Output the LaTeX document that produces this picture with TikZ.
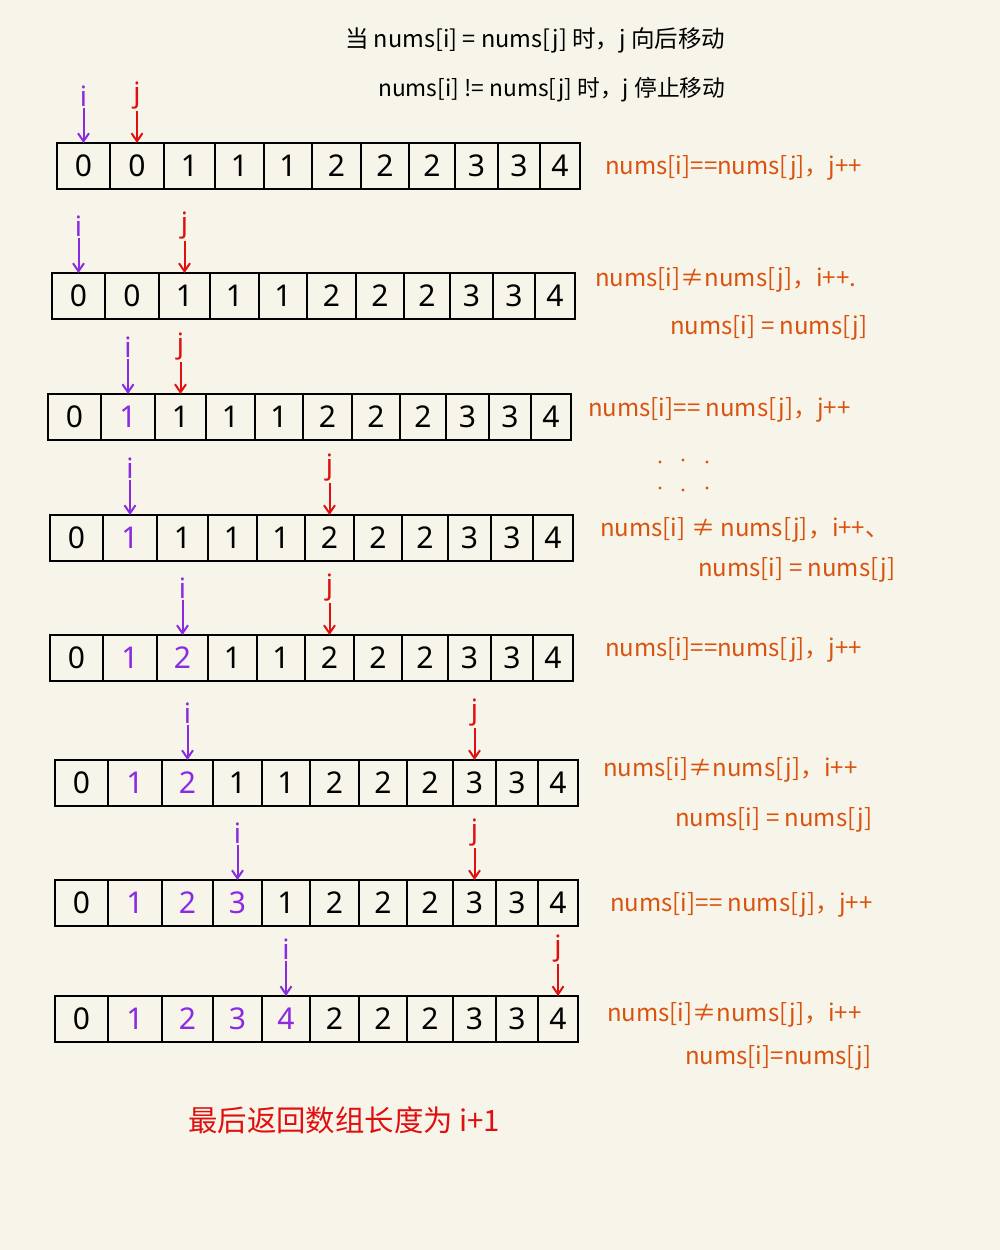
\documentclass[tikz,border=0pt]{standalone}
\usepackage{fontspec}
\usepackage{graphicx}
\setmainfont{Noto Sans}
\newfontfamily\cjk{Noto Sans CJK SC}
\usetikzlibrary{arrows.meta}
\definecolor{bg}{HTML}{F7F5E9}
\definecolor{pur}{HTML}{8A2BE2}
\definecolor{ptr}{HTML}{E01010}
\definecolor{org}{HTML}{D9530F}
\begin{document}
\begin{tikzpicture}[x=1pt,y=-1pt,
  cell/.style={draw=black, line width=2.2pt, anchor=north west, minimum height=46pt,
    inner sep=0pt, outer sep=0pt, font=\fontsize{30}{30}\selectfont},
  ilab/.style={text=pur, inner sep=1pt, font=\fontsize{28}{28}\selectfont},
  jlab/.style={text=ptr, inner sep=1pt, font=\fontsize{28}{28}\selectfont},
  iarrow/.style={draw=pur, line width=2pt, -{Straight Barb[length=8pt,width=11pt]}},
  jarrow/.style={draw=ptr, line width=2pt, -{Straight Barb[length=8pt,width=11pt]}},
  lab/.style={anchor=west, text=org, inner sep=0pt, font=\fontsize{24}{24}\selectfont\cjk},
  head/.style={anchor=west, text=black, inner sep=0pt},
  foot/.style={anchor=west, text=ptr, inner sep=0pt},
  dot/.style={fill=org, draw=none}]
\fill[bg] (0,0) rectangle (1000,1250);
\useasboundingbox (0,0) rectangle (1000,1250);

% header
\node[head] (h1) at (345,40) {\resizebox{380pt}{!}{\cjk 当 nums[i] = nums[j] 时，j 向后移动}};
\node[head] (h2) at (378,90) {\resizebox{347pt}{!}{\cjk nums[i] != nums[j] 时，j 停止移动}};

% arrays
\foreach \r/\x/\y/\vals/\np/\ci/\cj in {
  1/57/143/{0,0,1,1,1,2,2,2,3,3,4}/0/1/2,
  2/52/273/{0,0,1,1,1,2,2,2,3,3,4}/0/1/3,
  3/48/394/{0,1,1,1,1,2,2,2,3,3,4}/1/2/3,
  4/50/515/{0,1,1,1,1,2,2,2,3,3,4}/1/2/6,
  5/50/635/{0,1,2,1,1,2,2,2,3,3,4}/2/3/6,
  6/55/760/{0,1,2,1,1,2,2,2,3,3,4}/2/3/9,
  7/55/880/{0,1,2,3,1,2,2,2,3,3,4}/3/4/9,
  8/55/996/{0,1,2,3,4,2,2,2,3,3,4}/4/5/11}{
  \foreach \v [count=\k] in \vals {
    \pgfmathsetmacro\off{{0,53,107,158,207,255,304,352,398,441,483}[\k-1]}
    \pgfmathsetmacro\w{{53,54,51,49,48,49,48,46,43,42,40}[\k-1]}
    \pgfmathtruncatemacro\ispur{and(\k>1,\k<=\np+1)}
    \ifnum\ispur=1 \def\tc{pur}\else\def\tc{black}\fi
    \node[cell, minimum width=\w pt, text=\tc] (r\r c\k) at (\x+\off,\y) {\v};
  }
  \node[ilab] (i\r) at ([yshift=47pt]r\r c\ci.north) {i};
  \node[jlab] (j\r) at ([yshift=47pt]r\r c\cj.north) {j};
  \draw[iarrow] (i\r) -- (r\r c\ci.north);
  \draw[jarrow] (j\r) -- (r\r c\cj.north);
}

% orange notes
\node[lab] (l1) at (605,168) {nums[i]==nums[j]，j++};
\node[lab] (l2a) at (595,280) {nums[i]≠nums[j]，i++.};
\node[lab] (l2b) at (670,328) {nums[i] = nums[j]};
\node[lab] (l3) at (588,410) {nums[i]== nums[j]，j++};
\node[lab] (l4a) at (600,530) {nums[i] ≠ nums[j]，i++、};
\node[lab] (l4b) at (698,570) {nums[i] = nums[j]};
\node[lab] (l5) at (605,650) {nums[i]==nums[j]，j++};
\node[lab] (l6a) at (603,770) {nums[i]≠nums[j]，i++};
\node[lab] (l6b) at (675,820) {nums[i] = nums[j]};
\node[lab] (l7) at (610,905) {nums[i]== nums[j]，j++};
\node[lab] (l8a) at (607,1015) {nums[i]≠nums[j]，i++};
\node[lab] (l8b) at (685,1058) {nums[i]=nums[j]};

% dots
\foreach \dx/\dy in {660/462,683/460,707/462,660/488,683/490,707/488}
  \fill[dot] (\dx,\dy) circle (1.6pt);

% footer
\node[foot] (f) at (188,1120) {\resizebox{312pt}{!}{\cjk 最后返回数组长度为 i+1}};
\end{tikzpicture}
\end{document}
